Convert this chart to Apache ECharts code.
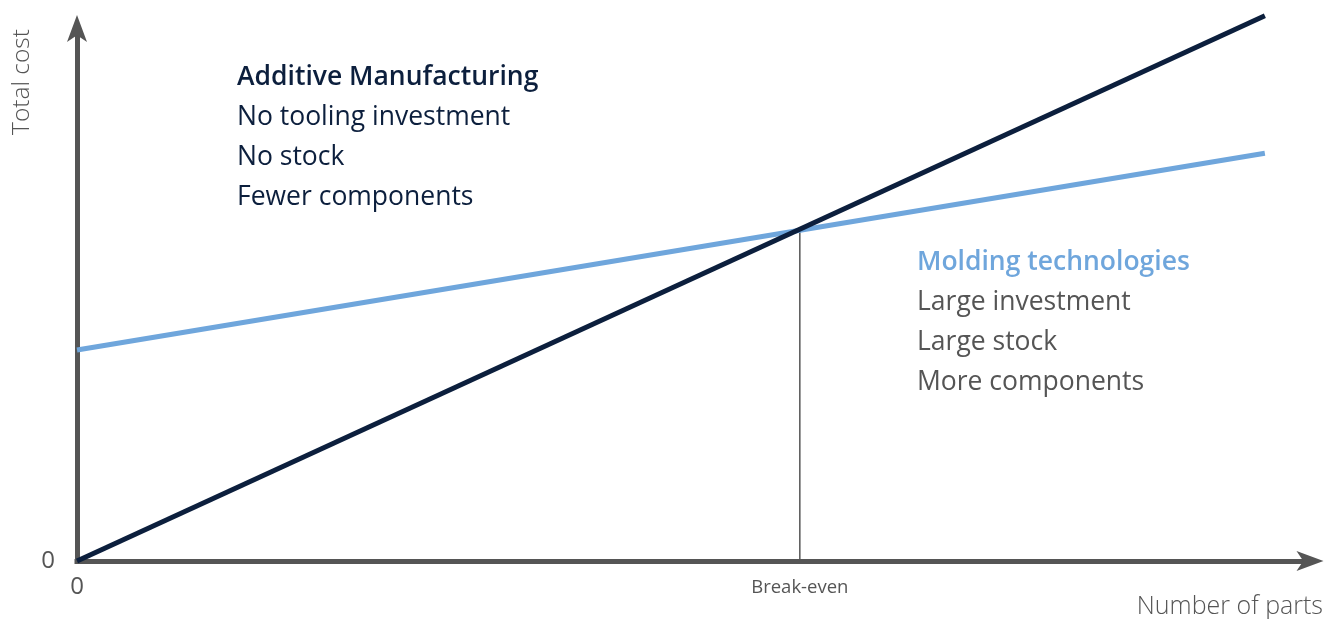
<!DOCTYPE html>
<html>
<head>
<meta charset="utf-8">
<script src="https://cdn.jsdelivr.net/npm/echarts@6/dist/echarts.min.js"></script>
<style>
html,body{margin:0;padding:0;background:#fff;}
#c{width:1335px;height:619px;}
</style>
</head>
<body>
<div id="c"></div>
<script>
// Data (relative units: x = number of parts 0..100, y = total cost 0..100)
const xValues = [0, 96.3];
const additiveCost = [0, 102.3];
const moldingCost = [39.6, 76.5];
const breakEvenX = 58.6;
const breakEvenY = 62.2;
const xTickLabels = ['0', 'Break-even'];
const yTickLabels = ['0'];
const additiveText = ['Additive Manufacturing', 'No tooling investment', 'No stock', 'Fewer components'];
const moldingText = ['Molding technologies', 'Large investment', 'Large stock', 'More components'];
const axisNames = { x: 'Number of parts', y: 'Total cost' };

const FONT = 'Open Sans';
const DARK = '#0c1f3d';
const BLUE = '#6fa6dc';
const GRAY = '#555555';

const chart = echarts.init(document.getElementById('c'));

function textBlock(lines, left, top0, titleColor, bodyColor) {
  return lines.map((t, i) => ({
    type: 'text',
    left: left,
    top: top0 + i * 40,
    style: {
      text: t,
      font: (i === 0 ? '600 ' : '400 ') + '26.5px "' + FONT + '"',
      fill: i === 0 ? titleColor : bodyColor
    }
  }));
}

const arrowLine = {
  show: true,
  symbol: ['none', 'arrow'],
  symbolSize: [15, 27],
  symbolOffset: [0, 13],
  lineStyle: { color: GRAY, width: 5, cap: 'square' }
};

const option = {
  animation: false,
  grid: { left: 77, right: 24.5, top: 28, bottom: 58 },
  xAxis: {
    type: 'value',
    min: 0,
    max: 100,
    splitLine: { show: false },
    axisTick: { show: false },
    axisLine: arrowLine,
    axisLabel: {
      customValues: [0, breakEvenX],
      margin: 14,
      formatter: function (v) {
        return v === 0 ? '{z|' + xTickLabels[0] + '}' : '{b|' + xTickLabels[1] + '}';
      },
      rich: {
        z: { fontSize: 24, color: GRAY, fontFamily: FONT },
        b: { fontSize: 18.5, color: GRAY, fontFamily: FONT, padding: [3, 0, 0, 0] }
      }
    }
  },
  yAxis: {
    type: 'value',
    min: 0,
    max: 100,
    splitLine: { show: false },
    axisTick: { show: false },
    axisLine: arrowLine,
    axisLabel: {
      customValues: [0],
      margin: 22,
      formatter: function () { return yTickLabels[0]; },
      fontSize: 24,
      color: GRAY,
      fontFamily: FONT
    }
  },
  series: [
    {
      type: 'line',
      name: 'Break-even',
      data: [[breakEvenX, 0], [breakEvenX, breakEvenY]],
      symbol: 'none',
      lineStyle: { color: GRAY, width: 1.5 },
      z: 1,
      silent: true
    },
    {
      type: 'line',
      name: 'Molding technologies',
      data: xValues.map((x, i) => [x, moldingCost[i]]),
      symbol: 'none',
      clip: false,
      lineStyle: { color: BLUE, width: 5 },
      z: 2
    },
    {
      type: 'line',
      name: 'Additive Manufacturing',
      data: xValues.map((x, i) => [x, additiveCost[i]]),
      symbol: 'none',
      clip: false,
      lineStyle: { color: DARK, width: 5 },
      z: 3
    }
  ],
  graphic: [
    {
      type: 'text',
      x: 22,
      y: 82,
      rotation: Math.PI / 2,
      style: {
        text: axisNames.y,
        font: '300 24.5px "' + FONT + '"',
        fill: GRAY,
        align: 'center',
        verticalAlign: 'middle'
      }
    },
    {
      type: 'text',
      right: 12,
      top: 594,
      style: {
        text: axisNames.x,
        font: '300 25px "' + FONT + '"',
        fill: GRAY
      }
    }
  ].concat(textBlock(additiveText, 237, 64, DARK, DARK))
   .concat(textBlock(moldingText, 917, 249, BLUE, GRAY))
};

chart.setOption(option);
</script>
</body>
</html>
